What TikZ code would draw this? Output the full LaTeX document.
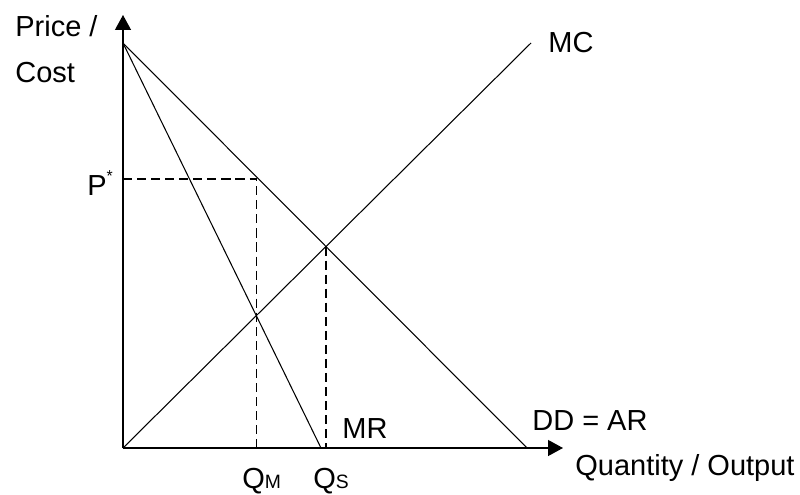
\documentclass[tikz,border=0pt]{standalone}
\usepackage{fontspec}
\setmainfont{Liberation Sans}
\usetikzlibrary{arrows.meta,calc}

\begin{document}
\begin{tikzpicture}[
  x=0.02cm, y=0.02cm,
  curve/.style={line width=0.6pt},
  axis/.style={line width=0.7pt,-{Triangle[length=0.3cm,width=0.32cm]}},
  guide/.style={line width=0.6pt,dash pattern=on 5.2pt off 2.8pt},
  lbl/.style={inner sep=0pt,anchor=base west,font=\fontsize{16.5}{20}\selectfont}
]
\useasboundingbox (-123,-46) rectangle (677,448);

% Key points
\coordinate (O) at (0,0);
\coordinate (top) at (0,405);
\coordinate (mcEnd) at (408,405);
\coordinate (ddEnd) at (404,0);
\coordinate (mrEnd) at (198,0);
\coordinate (E) at (intersection of top--ddEnd and O--mcEnd);
\coordinate (K) at (intersection of top--mrEnd and O--mcEnd);

% Axes
\draw[axis] (O) -- (0,433);
\draw[axis] (O) -- (440,0);

% Curves
\draw[curve] (O) -- (mcEnd);
\draw[curve] (top) -- (ddEnd);
\draw[curve] (top) -- (mrEnd);

% Monopoly price and quantities
\coordinate (Pd) at (K |- 0,269);
\draw[guide] (0,269) -- (Pd) -- (K |- O);
\draw[guide] (E) -- (E |- O);

% Labels
\node[lbl] (price) at (-108,411) {Price /};
\node[lbl] (cost) at (-108,365) {Cost};
\node[lbl] (pstar) at (-36,253) {P\raisebox{0.45em}{\fontsize{9}{10}\selectfont *}};
\node[lbl] (mc) at (425,395) {MC};
\node[lbl] (mr) at (219,10) {MR};
\node[lbl] (dd) at (409,18) {DD = AR};
\node[lbl] (qty) at (452,-27) {Quantity / Output};
\node[lbl] (qm) at (119,-40) {Q{\fontsize{11}{12}\selectfont M}};
\node[lbl] (qs) at (190,-40) {Q{\fontsize{11}{12}\selectfont S}};
\end{tikzpicture}
\end{document}
